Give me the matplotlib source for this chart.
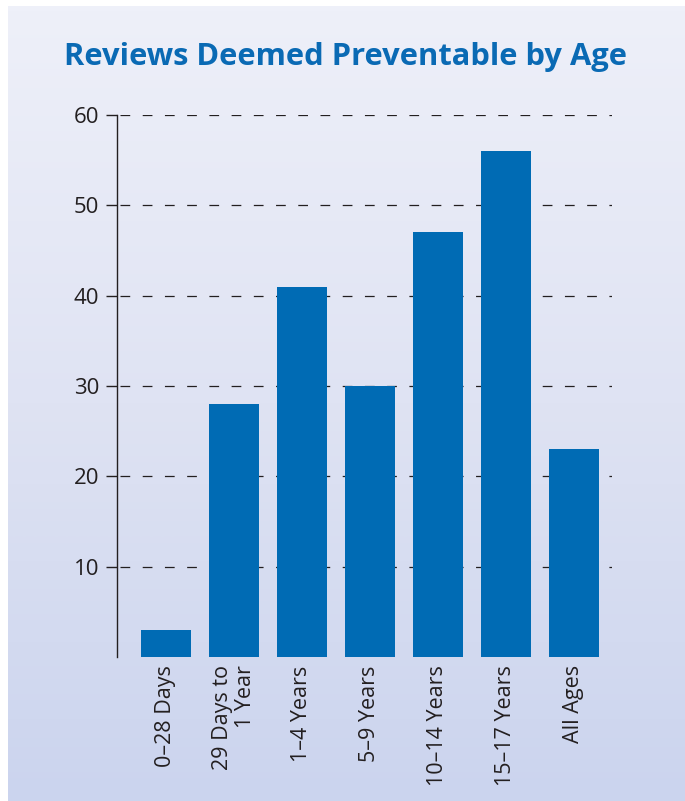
import numpy as np
import matplotlib
matplotlib.use("Agg")
import matplotlib.pyplot as plt
from matplotlib.colors import LinearSegmentedColormap

# Data
categories = ["0\u201328 Days", "29 Days to\n1 Year", "1\u20134 Years", "5\u20139 Years",
              "10\u201314 Years", "15\u201317 Years", "All Ages"]
values = [3, 28, 41, 30, 47, 56, 23]
y_ticks = [10, 20, 30, 40, 50, 60]

title = "Reviews Deemed Preventable by Age"
bar_color = "#006bb4"
title_color = "#0a6ab4"
text_color = "#231f20"

plt.rcParams["font.family"] = ["Open Sans", "DejaVu Sans"]
plt.rcParams["lines.scale_dashes"] = False

W, H = 685, 801
fig = plt.figure(figsize=(W / 100, H / 100), dpi=100)
fig.patch.set_facecolor("white")

# Gradient panel behind everything
bg = fig.add_axes([8 / W, 0, (W - 8) / W, (H - 6) / H], zorder=-10)
grad_cmap = LinearSegmentedColormap.from_list("panel", ["#eef0f9", "#dfe3f3", "#cbd4ee"])
bg.imshow(np.linspace(0, 1, 256).reshape(-1, 1), aspect="auto", cmap=grad_cmap,
          extent=[0, 1, 0, 1], interpolation="bilinear")
bg.set_axis_off()

# Main plot
ax = fig.add_axes([117 / W, 1 - 657 / H, (612 - 117) / W, (657 - 115) / H])
ax.set_facecolor("none")
x = np.arange(len(categories))
ax.bar(x, values, width=0.735, color=bar_color, zorder=3)

ax.set_xlim(-0.72, 6.56)
ax.set_ylim(0, 60)
ax.set_yticks(y_ticks)
ax.set_yticklabels([str(t) for t in y_ticks], fontsize=16, color=text_color)
ax.set_xticks(x)
ax.set_xticklabels(categories, rotation=90, fontsize=15.5, color=text_color,
                   ha="center", va="top", multialignment="right",
                   linespacing=1.1)

for t in y_ticks:
    ax.axhline(t, color="#231f20", lw=0.9, dashes=(7, 9), zorder=1,
               xmin=0.006, xmax=1.0)

for side in ["top", "right", "bottom"]:
    ax.spines[side].set_visible(False)
ax.spines["left"].set_color(text_color)
ax.spines["left"].set_linewidth(1.0)
ax.tick_params(axis="y", length=8, width=1.0, color=text_color, pad=5)
ax.tick_params(axis="x", length=0, pad=6)

fig.text(345 / W, 1 - 57 / H, title, ha="center", va="center", fontsize=22.2,
         fontweight="bold", color=title_color)

fig.savefig("out.png", dpi=100)
